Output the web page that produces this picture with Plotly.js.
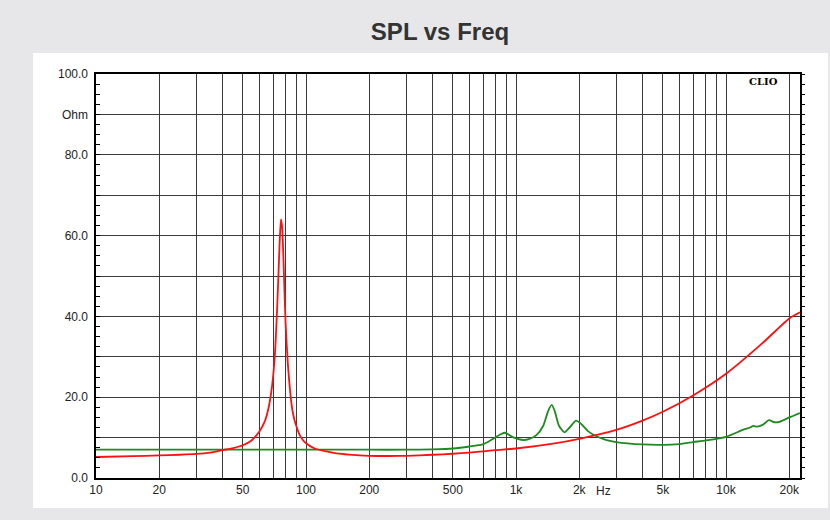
<!DOCTYPE html>
<html><head><meta charset="utf-8">
<script src="https://cdn.plot.ly/plotly-3.0.1.min.js"></script>
<style>html,body{margin:0;padding:0;background:#e7e7e9;}#chart{width:830px;height:520px;}</style>
</head><body><div id="chart"></div>
<script>
// Impedance curve (red), frequency in Hz, value in Ohm
const redFreq = [10,15,20,25,30,35,40,45,50,55,60,63,65,67,69,71,72,73,74,75,76,77,78,79,80,82,84,86,88,90,93,96,100,110,125,140,160,200,250,300,400,500,600,700,800,1000,1500,2000,3000,4000,5000,7000,10000,15000,20000,22500];
const redOhm  = [5.2,5.4,5.6,5.75,5.95,6.3,6.9,7.4,8.1,9.3,11.5,13.5,15.5,18.5,23,30,36,43,51,59,64,62,55,46,38,28,21.5,17,14.5,12.8,10.8,9.6,8.6,7.3,6.6,6.1,5.8,5.5,5.45,5.5,5.75,6.0,6.3,6.6,6.9,7.3,8.5,9.7,11.9,14.2,16.4,20.5,25.8,33.5,39.5,41];
// Second curve (green)
const greenFreq = [10,20,50,100,200,300,400,500,600,700,750,800,850,887,950,1000,1080,1150,1250,1350,1420,1480,1530,1600,1700,1800,1930,2050,2200,2400,2700,3000,4000,5000,6000,7000,8000,10000,12000,13000,13500,14000,15000,16000,17000,18000,20000,22500];
const greenOhm  = [7.0,7.0,7.0,7.0,7.0,7.0,7.1,7.3,7.8,8.4,9.2,10.1,10.9,11.2,10.3,9.8,9.4,9.6,10.6,13,16.5,18.1,16.5,13,11.3,12.5,14.2,13.3,11.6,10.4,9.4,8.9,8.3,8.2,8.4,8.9,9.3,10.2,11.9,12.5,12.9,12.7,13.2,14.3,13.8,13.9,15.0,16.1];
// Axis ticks
const xGridVals = [10,20,30,40,50,60,70,80,90,100,200,300,400,500,600,700,800,900,1000,2000,3000,4000,5000,6000,7000,8000,9000,10000,20000];
const xGridText = ['10','20','','','50','','','','','100','200','','','500','','','','','1k','2k','','','5k','','','','','10k','20k'];
const yVals = [0,10,20,30,40,50,60,70,80,90,100];
const yText = ['0.0','','20.0','','40.0','','60.0','','80.0','Ohm','100.0'];
const titleText = 'SPL vs Freq';

const L=96,R=800,T=74,B=478,W=830,H=520;
const pw=R-L, ph=B-T;
const px = v => (v-L)/pw, py = v => (B-v)/ph;

const traces = [
  {x: greenFreq, y: greenOhm, type:'scatter', mode:'lines', line:{color:'#1f8a1f', width:1.8, shape:'spline', smoothing:0.6}, hoverinfo:'skip'},
  {x: redFreq, y: redOhm, type:'scatter', mode:'lines', line:{color:'#ff1010', width:1.8, shape:'spline', smoothing:0.6}, hoverinfo:'skip'},
  {x:[10], y:[0], yaxis:'y2', type:'scatter', mode:'markers', marker:{opacity:0}, hoverinfo:'skip'}
];
const tickFont = {family:'Liberation Sans, Arial, sans-serif', size:12, color:'#222'};
const layout = {
  width:W, height:H, showlegend:false,
  paper_bgcolor:'#e7e7e9', plot_bgcolor:'#ffffff',
  margin:{l:L, r:W-R, t:T, b:H-B, pad:0},
  title:{text:titleText, font:{family:'Liberation Sans, Arial, sans-serif', size:24, color:'#333', weight:'bold'}, xref:'paper', x:px(440), xanchor:'center', yref:'container', y:1-32/H, yanchor:'middle'},
  xaxis:{type:'log', range:[1, Math.log10(22500)], tickmode:'array', tickvals:xGridVals, ticktext:xGridText,
    showgrid:true, gridcolor:'#3a3a3a', gridwidth:1, ticks:'', tickfont:tickFont,
    showline:true, linecolor:'#000', linewidth:1.6, mirror:true, zeroline:false, fixedrange:true},
  yaxis:{range:[0,100], tickmode:'array', tickvals:yVals, ticktext:yText,
    showgrid:true, gridcolor:'#3a3a3a', gridwidth:1, ticks:'inside', ticklen:4, tickcolor:'#000', tickfont:tickFont,
    minor:{dtick:2.5, tick0:0, ticks:'inside', ticklen:4, tickcolor:'#000', showgrid:false},
    showline:true, linecolor:'#000', linewidth:1.6, mirror:true, zeroline:false, fixedrange:true, ticklabelstandoff:4},
  yaxis2:{range:[0,100], overlaying:'y', side:'right', showticklabels:false, showgrid:false, zeroline:false,
    tickmode:'linear', dtick:2.5, tick0:0, ticks:'outside', ticklen:4, tickcolor:'#000', showline:false, fixedrange:true},
  shapes:[{type:'rect', xref:'paper', yref:'paper', x0:px(33), x1:px(828), y0:py(508), y1:py(53), fillcolor:'#ffffff', line:{width:0}, layer:'below'}],
  annotations:[
    {text:'CLIO', xref:'paper', yref:'paper', x:px(763), y:py(81), xanchor:'center', yanchor:'middle', showarrow:false, font:{family:'DejaVu Serif, serif', size:10, color:'#000', weight:'bold'}},
    {text:'Hz', xref:'paper', yref:'paper', x:px(603), y:py(491), xanchor:'center', yanchor:'middle', showarrow:false, font:tickFont}
  ]
};
Plotly.newPlot('chart', traces, layout, {staticPlot:true, displayModeBar:false});
</script></body></html>
